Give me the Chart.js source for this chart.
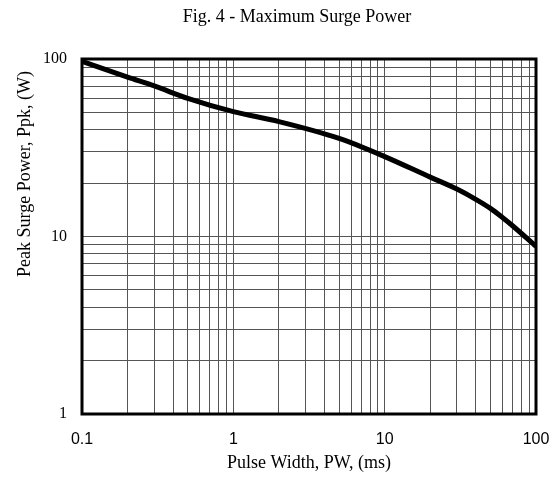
<!DOCTYPE html>
<html>
<head>
<meta charset="utf-8">
<script src="https://cdn.jsdelivr.net/npm/chart.js@4/dist/chart.umd.min.js"></script>
<style>
  html, body { margin: 0; padding: 0; background: #fff; }
  canvas { display: block; }
</style>
</head>
<body>
<canvas id="chart" width="557" height="485"></canvas>
<script>
'use strict';

/* ── Data ─────────────────────────────────────────────────── */
const pulseWidth = [0.1, 0.2, 0.3, 0.5, 1, 2, 5, 10, 20, 30, 40, 50, 60, 70, 100];
const surgePower = [97, 79, 70.5, 60, 50.5, 44.4, 35.7, 28.2, 21.6, 18.5, 16.2, 14.4, 12.8, 11.5, 8.8];

const xDecades = [0.1, 1, 10, 100];
const yDecades = [1, 10, 100];
const mantissas = [1, 2, 3, 4, 5, 6, 7, 8, 9];

const titleText = 'Fig. 4 - Maximum Surge Power';
const xTitle = 'Pulse Width, PW, (ms)';
const yTitle = 'Peak Surge Power, Ppk, (W)';

// grid values: every 1..9 step inside each decade
function gridValues(decades) {
  const out = [];
  decades.forEach((d, i) => {
    if (i === decades.length - 1) { out.push(d); return; }
    mantissas.forEach(m => out.push(+(d * m).toPrecision(3)));
  });
  return out;
}
const xGrid = gridValues(xDecades);
const yGrid = gridValues(yDecades);

const serif = '"Liberation Serif", "Times New Roman", serif';
const sans = '"Liberation Sans", Arial, sans-serif';

/* ── Plugins ──────────────────────────────────────────────── */
const framePlugin = {
  id: 'frame',
  afterDatasetsDraw(chart) {
    const { ctx, chartArea: a } = chart;
    ctx.save();
    ctx.strokeStyle = '#000';
    ctx.lineWidth = 3;
    ctx.strokeRect(a.left, a.top, a.right - a.left, a.bottom - a.top);
    ctx.restore();
  }
};

// title and y-axis title sit off-centre in the original, so draw them here
const textPlugin = {
  id: 'texts',
  afterDraw(chart) {
    const { ctx, chartArea: a } = chart;
    ctx.save();
    ctx.fillStyle = '#000';
    ctx.textAlign = 'center';
    ctx.textBaseline = 'middle';
    ctx.font = '18px ' + serif;
    ctx.fillText(titleText, a.left + 215, 17);
    ctx.translate(25, a.top + 115);
    ctx.rotate(-Math.PI / 2);
    ctx.fillText(yTitle, 0, 0);
    ctx.restore();
  }
};

/* ── Chart ────────────────────────────────────────────────── */
new Chart(document.getElementById('chart'), {
  type: 'line',
  data: {
    datasets: [{
      data: pulseWidth.map((x, i) => ({ x, y: surgePower[i] })),
      borderColor: '#000',
      borderWidth: 5,
      pointRadius: 0,
      cubicInterpolationMode: 'monotone',
      fill: false,
    }]
  },
  options: {
    responsive: false,
    animation: false,
    layout: { padding: { left: 0, right: 21, top: 59, bottom: 0 } },
    plugins: {
      legend: { display: false },
      tooltip: { enabled: false },
      title: { display: false },
    },
    scales: {
      x: {
        type: 'logarithmic',
        min: 0.1, max: 100,
        afterBuildTicks: s => { s.ticks = xGrid.map(v => ({ value: v })); },
        afterFit: s => { s.height = 71; s.paddingLeft = 0; s.paddingRight = 0; },
        ticks: {
          autoSkip: false, maxRotation: 0,
          padding: 16,
          color: '#000',
          font: { family: sans, size: 16 },
          callback: v => xDecades.includes(v) ? String(v) : '',
        },
        grid: { color: '#555', lineWidth: 1, drawTicks: false },
        border: { display: false },
        title: {
          display: true, text: xTitle, color: '#000',
          font: { family: serif, size: 18 },
          padding: { top: 0, bottom: 11 },
        },
      },
      y: {
        type: 'logarithmic',
        min: 1, max: 100,
        afterBuildTicks: s => { s.ticks = yGrid.map(v => ({ value: v })); },
        afterFit: s => { s.width = 82; s.paddingTop = 0; s.paddingBottom = 0; },
        ticks: {
          autoSkip: false,
          padding: 15,
          color: '#000',
          font: { family: serif, size: 16 },
          callback: v => yDecades.includes(v) ? String(v) : '',
        },
        grid: { color: '#555', lineWidth: 1, drawTicks: false },
        border: { display: false },
        title: { display: false },
      },
    },
  },
  plugins: [framePlugin, textPlugin],
});
</script>
</body>
</html>
